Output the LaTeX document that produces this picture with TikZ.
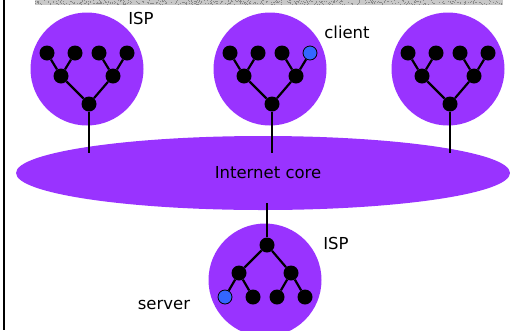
\documentclass[tikz,border=0pt]{standalone}
\usepackage{fontspec}
\setmainfont{DejaVu Sans}
\usetikzlibrary{shapes.geometric}
\definecolor{ispviolet}{HTML}{9933FF}
\definecolor{hostblue}{HTML}{3366FF}
\definecolor{barlight}{HTML}{C8C8C8}
\definecolor{bardark}{HTML}{8A8A8A}
\begin{document}
\begin{tikzpicture}[x=1pt,y=-1pt,
  router/.style={circle,fill=black,inner sep=0pt,minimum size=15pt},
  host/.style={circle,fill=hostblue,draw=black,line width=0.8pt,inner sep=0pt,minimum size=14pt},
  link/.style={line width=2.2pt},
  ispnet/.style={circle,fill=ispviolet,inner sep=0pt,minimum size=113pt},
  corenet/.style={ellipse,fill=ispviolet,inner sep=0pt,minimum width=494pt,minimum height=74pt},
  lbl/.style={font=\fontsize{16.5}{19}\selectfont,inner sep=0pt}]
\useasboundingbox (0,0) rectangle (510,330);
% frame pieces: grainy strip on top, rule on the left
\fill[barlight] (35,0) rectangle (503,4.5);
\pgfmathsetseed{7}
\foreach \k in {1,...,500}{
  \pgfmathsetmacro{\gx}{35+467*rnd}
  \pgfmathsetmacro{\gy}{4*rnd}
  \fill[bardark] (\gx,\gy) rectangle ++(1,1);
}
\draw[line width=2.5pt] (4,0) -- (4,330);

% access networks and core
\node[ispnet] (ispA) at (87,69) {};
\node[ispnet] (ispB) at (270,69) {};
\node[ispnet] (ispC) at (448,69) {};
\node[ispnet] (ispD) at (265,280) {};
\node[corenet] (core) at (263,173) {};
\node[lbl] (corelbl) at (268,173) {Internet core};

% upper access trees
\foreach \n/\cx/\last in {A/87/router,B/270/host,C/448/router}{
  \coordinate (\n-up) at (\cx+2,153);
  \node[router] (\n-root) at (\cx+2,104) {};
  \node[router] (\n-m1) at (\cx-26,76) {};
  \node[router] (\n-m2) at (\cx+26,76) {};
  \node[router] (\n-l1) at (\cx-40,53) {};
  \node[router] (\n-l2) at (\cx-12,53) {};
  \node[router] (\n-l3) at (\cx+12,53) {};
  \node[\last] (\n-l4) at (\cx+40,53) {};
  \draw[link] (\n-root) -- (\n-up);
  \draw[link] (\n-root) -- (\n-m1);
  \draw[link] (\n-root) -- (\n-m2);
  \draw[link] (\n-m1) -- (\n-l1);
  \draw[link] (\n-m1) -- (\n-l2);
  \draw[link] (\n-m2) -- (\n-l3);
  \draw[link] (\n-m2) -- (\n-l4);
}

% lower access tree
\coordinate (D-up) at (267,203);
\node[router] (D-root) at (267,245) {};
\node[router] (D-m1) at (239,273) {};
\node[router] (D-m2) at (291,273) {};
\node[host] (D-l1) at (225,297) {};
\node[router] (D-l2) at (253,297) {};
\node[router] (D-l3) at (277,297) {};
\node[router] (D-l4) at (305,297) {};
\draw[link] (D-root) -- (D-up);
\draw[link] (D-root) -- (D-m1);
\draw[link] (D-root) -- (D-m2);
\draw[link] (D-m1) -- (D-l1);
\draw[link] (D-m1) -- (D-l2);
\draw[link] (D-m2) -- (D-l3);
\draw[link] (D-m2) -- (D-l4);

% labels
\node[lbl] (lblA) at (141,18) {ISP};
\node[lbl] (lblB) at (347,32) {client};
\node[lbl] (lblD) at (336,243) {ISP};
\node[lbl] (lblS) at (164,305) {server};
\end{tikzpicture}
\end{document}
